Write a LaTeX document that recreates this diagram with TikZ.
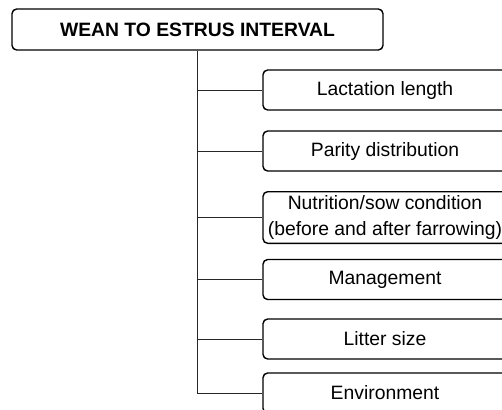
\documentclass[tikz,border=0pt]{standalone}
\usepackage{fontspec}
\setmainfont{Liberation Sans}
\tikzset{
  factorbox/.style={draw, line width=1.2pt, rounded corners=4pt,
    minimum width=7.32cm, minimum height=1.2cm, inner xsep=1pt,
    align=center, font=\fontsize{16.5}{22}\selectfont},
  titlebox/.style={factorbox, minimum width=11.13cm, minimum height=1.23cm,
    font=\fontsize{16.5}{22}\selectfont\bfseries},
  branch/.style={line width=0.8pt, draw=black!85}
}
\begin{document}
\begin{tikzpicture}[x=0.03cm, y=-0.03cm]
      \useasboundingbox (0,0) rectangle (502,409);
      \clip (0,0) rectangle (502,409);
      \draw
        (197.5,29.5) node[titlebox] (title){WEAN TO ESTRUS INTERVAL}
        (385,90) node[factorbox] (lactation){Lactation length}
        (385,151) node[factorbox] (parity){Parity distribution}
        (385,217.5) node[factorbox, minimum height=1.53cm] (nutrition){Nutrition/sow condition\\(before and after farrowing)}
        (385,279.5) node[factorbox] (management){Management}
        (385,339) node[factorbox] (litter){Litter size}
        (385,393) node[factorbox] (environment){Environment};
      \begin{scope}[branch]
        \draw (title.south) |- (environment.west);
        \draw (title.south |- lactation.west) to (lactation.west);
        \draw (title.south |- parity.west) to (parity.west);
        \draw (title.south |- nutrition.west) to (nutrition.west);
        \draw (title.south |- management.west) to (management.west);
        \draw (title.south |- litter.west) to (litter.west);
      \end{scope}
    \end{tikzpicture}
\end{document}
